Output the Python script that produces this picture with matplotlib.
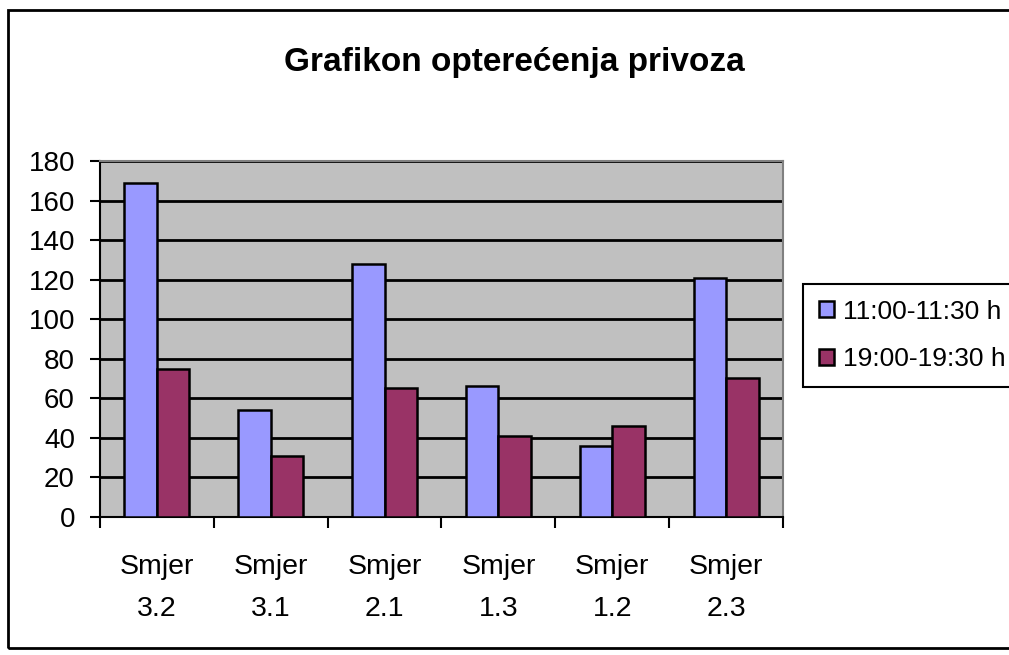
import numpy as np
import matplotlib.pyplot as plt
from matplotlib.patches import Rectangle

# ── data ──
smjer  = ["Smjer\n3.2", "Smjer\n3.1", "Smjer\n2.1", "Smjer\n1.3", "Smjer\n1.2", "Smjer\n2.3"]
jutro  = [169, 54, 128, 66, 36, 121]   # 11:00-11:30 h
vecer  = [75, 31, 65, 41, 46, 70]      # 19:00-19:30 h
labels = ["11:00-11:30 h", "19:00-19:30 h"]

plt.rcParams["font.family"] = ["Liberation Sans", "DejaVu Sans"]

fig = plt.figure(figsize=(10.09, 6.55), dpi=100)
ax = fig.add_axes([0.099, 0.211, 0.677, 0.543])

x = np.arange(len(smjer))
w = 1 / 3.5
ax.bar(x - w/2, jutro, w, color="#9999FF", edgecolor="black", lw=1.8, label=labels[0], zorder=3)
ax.bar(x + w/2, vecer, w, color="#993366", edgecolor="black", lw=1.8, label=labels[1], zorder=3)

ax.set_facecolor("#C0C0C0")
ax.set_xlim(-0.5, len(smjer) - 0.5)
ax.set_ylim(0, 180)
ax.set_yticks(range(0, 181, 20))
ax.yaxis.grid(True, color="black", lw=2, zorder=1)
ax.set_axisbelow(True)

ax.set_xticks(x)
ax.set_xticklabels(smjer, fontsize=20.5, linespacing=1.8)
ax.set_xticks(np.arange(-0.5, len(smjer)), minor=True)
ax.tick_params(axis="x", which="major", length=0, pad=27)
ax.tick_params(axis="x", which="minor", length=8, width=1.5, direction="out")
ax.tick_params(axis="y", labelsize=20, length=7, width=1.5, direction="out", pad=11)

for s in ["top", "right"]:
    ax.spines[s].set_color("#808080")
    ax.spines[s].set_linewidth(1.5)
for s in ["left", "bottom"]:
    ax.spines[s].set_color("black")
    ax.spines[s].set_linewidth(1.5)

fig.text(0.51, 0.905, "Grafikon opterećenja privoza", ha="center", va="center",
         fontsize=24, fontweight="bold")

leg = ax.legend(loc="upper left", bbox_to_anchor=(1.03, 0.655), fontsize=19,
                frameon=True, fancybox=False, edgecolor="black", framealpha=1,
                handlelength=0.55, handleheight=0.55, handletextpad=0.35,
                labelspacing=0.9, borderpad=0.6, borderaxespad=0)
leg.get_frame().set_linewidth(1.5)

# frame around the whole chart (right side runs off the image)
fig.patches.append(Rectangle((8/1009, 7/655), 1.1, 1 - 17/655, transform=fig.transFigure,
                             fill=False, edgecolor="black", lw=2, clip_on=False))

fig.savefig("out.png", dpi=100)
